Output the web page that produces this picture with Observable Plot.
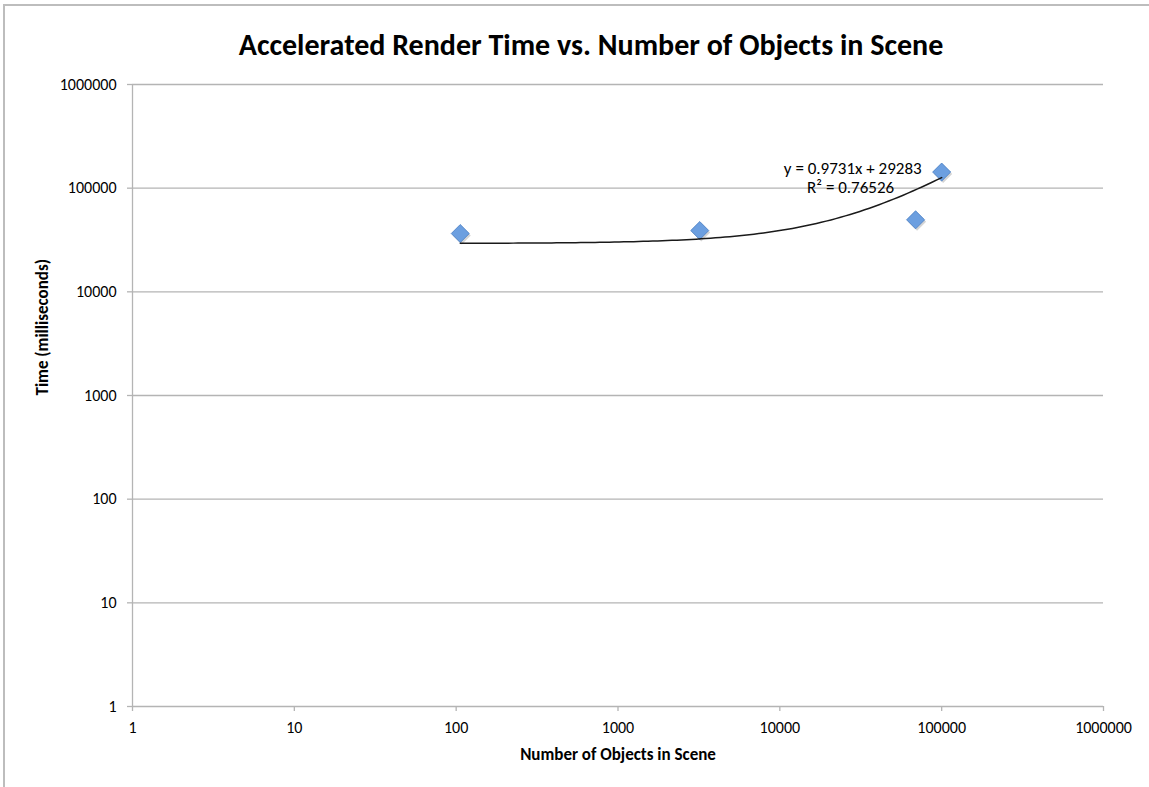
<!DOCTYPE html>
<html>
<head>
<meta charset="utf-8">
<script src="https://cdn.jsdelivr.net/npm/d3@7"></script>
<script src="https://cdn.jsdelivr.net/npm/@observablehq/plot@0.6"></script>
<style>
  html, body { margin: 0; padding: 0; background: #fff; }
  #chart { position: relative; width: 1149px; height: 787px; }
  #border { position: absolute; left: 3px; top: 4px; right: 0; bottom: 0; border-left: 2px solid #bdbdbd; border-top: 2px solid #bdbdbd; pointer-events: none; }
</style>
</head>
<body>
<div id="chart"><div id="border"></div></div>
<script>
const title = "Accelerated Render Time vs. Number of Objects in Scene";
const xLabel = "Number of Objects in Scene";
const yLabel = "Time (milliseconds)";

const objects = [106, 3200, 69000, 100000];
const times = [36500, 39000, 49500, 143000];

const xTicks = [1, 10, 100, 1000, 10000, 100000, 1000000];
const yTicks = [1, 10, 100, 1000, 10000, 100000, 1000000];

const trendSlope = 0.9731;
const trendIntercept = 29283;
const trendLabel = "y = 0.9731x + 29283";
const r2Label = "R\u00B2 = 0.76526";

const points = objects.map((x, i) => ({x, y: times[i]}));

const xMin = d3.min(objects), xMax = d3.max(objects);
const trend = d3.range(0, 101).map(i => {
  const x = xMin * Math.pow(xMax / xMin, i / 100);
  return {x, y: trendSlope * x + trendIntercept};
});

const font = "Carlito, 'Open Sans', sans-serif";
const grid = "#b4b4b4";

const plot = Plot.plot({
  width: 1149,
  height: 787,
  marginLeft: 132,
  marginRight: 46,
  marginTop: 84,
  marginBottom: 81,
  style: {fontFamily: font, fontSize: "16px", color: "#000", background: "transparent"},
  x: {type: "log", domain: [1, 1000000], ticks: xTicks, tickFormat: d => String(d), label: null},
  y: {type: "log", domain: [1, 1000000], ticks: yTicks, tickFormat: d => String(d), label: null},
  marks: [
    Plot.gridY(yTicks, {stroke: grid, strokeOpacity: 1, strokeWidth: 1.3}),
    Plot.ruleX([1], {stroke: grid, strokeWidth: 1.3}),
    Plot.axisX(xTicks, {tickSize: 5, stroke: grid, strokeWidth: 1.3, tickPadding: 10, fontSize: 16, tickFormat: d => String(d), label: null}),
    Plot.axisY(yTicks, {tickSize: 5, stroke: grid, strokeWidth: 1.3, tickPadding: 11, fontSize: 16, tickFormat: d => String(d), label: null}),
    Plot.dot(points, {x: "x", y: "y", symbol: "square", r: 7.2, rotate: 45, fill: "#b9b9b9", fillOpacity: 0.6, stroke: "none", dx: 1.5, dy: 2}),
    Plot.dot(points, {x: "x", y: "y", symbol: "square", r: 7.2, rotate: 45, fill: "#6c9fe0", stroke: "#4a7fc4", strokeWidth: 0.8}),
    Plot.line(trend, {x: "x", y: "y", stroke: "#1a1a1a", strokeWidth: 1.5, curve: "linear"}),
    Plot.text([trendLabel], {x: 100000, y: 100000, text: d => d, textAnchor: "end", dx: -20, dy: -20, fontSize: 17}),
    Plot.text([r2Label], {x: 100000, y: 100000, text: d => d, textAnchor: "middle", dx: -91, dy: -1, fontSize: 17}),
    Plot.text([title], {frameAnchor: "top", dx: -27, dy: -51, text: d => d, fontSize: 30, fontWeight: "bold"}),
    Plot.text([xLabel], {frameAnchor: "bottom", dy: 53, text: d => d, fontSize: 17, fontWeight: "bold"}),
    Plot.text([yLabel], {frameAnchor: "left", dx: -90, rotate: -90, text: d => d, fontSize: 17, fontWeight: "bold"})
  ]
});
document.getElementById("chart").prepend(plot);
plot.style.position = "absolute";
plot.style.left = "0";
plot.style.top = "0";
</script>
</body>
</html>
